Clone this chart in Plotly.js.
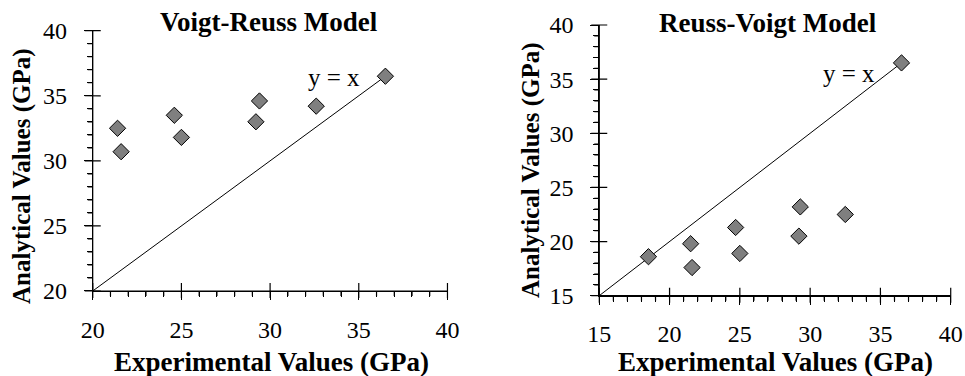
<!DOCTYPE html>
<html>
<head>
<meta charset="utf-8">
<script src="https://cdn.plot.ly/plotly-3.0.1.min.js"></script>
<style>
html,body{margin:0;padding:0;background:#fff;}
#chart{width:965px;height:376px;}
</style>
</head>
<body>
<div id="chart"></div>
<script>
// ---- data ----
var vrExperimental = [21.4, 21.6, 24.6, 25.0, 29.2, 29.4, 32.6, 36.5];
var vrAnalytical   = [32.5, 30.7, 33.5, 31.8, 33.0, 34.6, 34.2, 36.5];
var rvExperimental = [18.5, 21.5, 21.6, 24.7, 25.0, 29.3, 29.2, 32.5, 36.5];
var rvAnalytical   = [18.6, 19.8, 17.6, 21.3, 18.9, 23.2, 20.5, 22.5, 36.5];
var vrLineEnds = [20, 36.5];
var rvLineEnds = [15, 36.5];
var titles = ["Voigt-Reuss Model", "Reuss-Voigt Model"];
var xTitle = "Experimental Values (GPa)";
var yTitle = "Analytical Values (GPa)";
var lineLabel = "y = x";

var W = 965, H = 376;
var serif = "Liberation Serif";
var markerStyle = {symbol: "diamond", size: 12.5, color: "#7f7f7f", line: {color: "#000", width: 1}};
var lineStyle = {color: "#000", width: 1};

var panels = [
  {xr: [20, 40], yr: [20, 40], xd: [0.0961, 0.4637], yd: [0.2261, 0.9184], xa: "x", ya: "y"},
  {xr: [15, 40], yr: [15, 40], xd: [0.6210, 0.9852], yd: [0.2136, 0.9335], xa: "x2", ya: "y2"}
];

var traces = [
  {x: vrLineEnds, y: vrLineEnds, mode: "lines", line: lineStyle, xaxis: "x", yaxis: "y", hoverinfo: "skip"},
  {x: vrExperimental, y: vrAnalytical, mode: "markers", marker: markerStyle, xaxis: "x", yaxis: "y", cliponaxis: false},
  {x: rvLineEnds, y: rvLineEnds, mode: "lines", line: lineStyle, xaxis: "x2", yaxis: "y2", hoverinfo: "skip"},
  {x: rvExperimental, y: rvAnalytical, mode: "markers", marker: markerStyle, xaxis: "x2", yaxis: "y2", cliponaxis: false}
];

// Axis frame drawn as separate small line traces on a full-page pixel subplot;
// each segment is given a tiny slant so its bounding box never has zero area.
var frameStyle = {color: "#000", width: 1.2};
function seg(x0, y0, x1, y1) {
  var ex = (x0 === x1) ? 0.02 : 0, ey = (y0 === y1) ? 0.02 : 0;
  traces.push({x: [x0, x1 + ex], y: [y0, y1 + ey], mode: "lines", line: frameStyle,
    xaxis: "x3", yaxis: "y3", hoverinfo: "skip"});
}
panels.forEach(function (p) {
  var X0 = p.xd[0] * W, X1 = p.xd[1] * W;
  var Y0 = (1 - p.yd[0]) * H, Y1 = (1 - p.yd[1]) * H;
  seg(X0, Y0, X1, Y0);
  seg(X0, Y0, X0, Y1);
  for (var v = p.xr[0]; v <= p.xr[1]; v++) {
    var px = X0 + (v - p.xr[0]) / (p.xr[1] - p.xr[0]) * (X1 - X0);
    if (v % 5 === 0) seg(px, Y0 - 8, px, Y0 + 7);
    else seg(px, Y0, px, Y0 + 5);
  }
  for (var u = p.yr[0]; u <= p.yr[1]; u++) {
    var py = Y0 - (u - p.yr[0]) / (p.yr[1] - p.yr[0]) * (Y0 - Y1);
    if (u % 5 === 0) seg(X0 - 8, py, X0 + 8, py);
    else seg(X0 - 5, py, X0, py);
  }
});

function mainAxis(p, isX) {
  return {
    range: isX ? p.xr : p.yr, domain: isX ? p.xd : p.yd, anchor: isX ? p.ya : p.xa,
    showline: true, linecolor: "#000", linewidth: 1,
    showgrid: false, zeroline: false, fixedrange: true,
    ticks: "outside", ticklen: 8, tickwidth: 1, tickcolor: "#000",
    dtick: 5, tick0: 0,
    minor: {ticks: "outside", ticklen: 5, tickwidth: 1, tickcolor: "#000", dtick: 1, showgrid: false},
    tickfont: {family: serif, size: 24, color: "#000"},
    ticklabelstandoff: isX ? 9 : 12
  };
}

var ann = function (text, x, y, size, opts) {
  return Object.assign({text: text, x: x, y: y, xref: "paper", yref: "paper",
    xanchor: "center", yanchor: "middle", showarrow: false,
    font: {family: serif, size: size, color: "#000"}}, opts || {});
};

var layout = {
  width: W, height: H,
  margin: {l: 0, r: 0, t: 0, b: 0},
  paper_bgcolor: "#fff", plot_bgcolor: "rgba(0,0,0,0)",
  showlegend: false,
  xaxis: mainAxis(panels[0], true),
  yaxis: mainAxis(panels[0], false),
  xaxis2: mainAxis(panels[1], true),
  yaxis2: mainAxis(panels[1], false),
  xaxis3: {domain: [0, 1], range: [0, W], anchor: "y3", visible: false, fixedrange: true},
  yaxis3: {domain: [0, 1], range: [H, 0], anchor: "x3", visible: false, fixedrange: true},
  annotations: [
    ann("<b>" + titles[0] + "</b>", 268.5 / W, 1 - 22 / H, 27),
    ann("<b>" + titles[1] + "</b>", 768 / W, 1 - 23 / H, 27),
    ann("<b>" + xTitle + "</b>", 271 / W, 1 - 362 / H, 27),
    ann("<b>" + xTitle + "</b>", 775.5 / W, 1 - 362 / H, 27),
    ann("<b>" + yTitle + "</b>", 22 / W, 1 - 176 / H, 25, {textangle: -90}),
    ann("<b>" + yTitle + "</b>", 531 / W, 1 - 170 / H, 25, {textangle: -90}),
    {text: lineLabel, x: 33.6, y: 36.4, xref: "x", yref: "y", showarrow: false,
     xanchor: "center", yanchor: "middle", font: {family: serif, size: 25, color: "#000"}},
    {text: lineLabel, x: 32.77, y: 35.56, xref: "x2", yref: "y2", showarrow: false,
     xanchor: "center", yanchor: "middle", font: {family: serif, size: 25, color: "#000"}}
  ]
};

Plotly.newPlot("chart", traces, layout, {displayModeBar: false, staticPlot: true});
</script>
</body>
</html>
